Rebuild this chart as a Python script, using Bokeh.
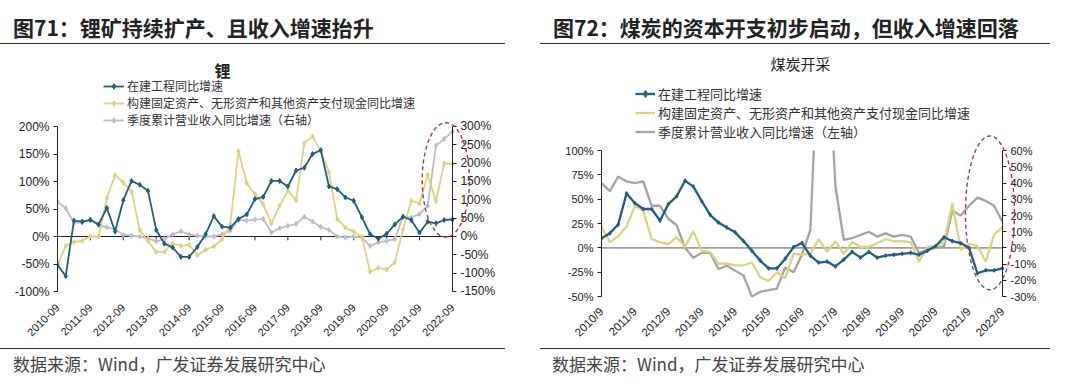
import numpy as np
from bokeh.plotting import figure
from bokeh.models import (Range1d, LinearAxis, FixedTicker, PrintfTickFormatter,
                          Legend, LegendItem, Label, PolyAnnotation, BoxAnnotation, Div)
from bokeh.layouts import row, column
from bokeh.embed import file_html
from bokeh.resources import INLINE

# ---------------- data ----------------
# Fig 71 : lithium (quarterly, 2010-09 .. 2022-09)
li_ticks = ["2010-09", "2011-09", "2012-09", "2013-09", "2014-09", "2015-09", "2016-09",
            "2017-09", "2018-09", "2019-09", "2020-09", "2021-09", "2022-09"]
li_cip = [-52, -72, 29, 27, 30, 22, 52, 9, 66, 101, 94, 83, 12, -13, -20, -37, -37, -19, 4, 37,
          18, 16, 32, 40, 68, 72, 101, 101, 91, 120, 125, 150, 157, 91, 86, 71, 65, 35, 4, -4,
          5, 22, 36, 30, 7, 27, 24, 30, 31]
li_capex = [-52, -17, -10, -8, 0, 0, 70, 112, 98, 82, 12, -8, -28, -28, -12, -17, -15, -34, -24, -18,
            -5, 22, 155, 97, 77, 59, 24, 56, 83, 66, 170, 182, 155, 117, 32, 16, 9, -1, -64, -57,
            -60, -47, 13, 65, 60, 112, 64, 133, 132]
li_rev = [95, 77, 37, 38, 47, 30, 25, 20, 5, 2, 0, -5, -13, -7, 6, 14, 6, 2, 0, 0,
          6, 16, 45, 43, 46, 48, 11, 23, 29, 34, 54, 41, 26, 18, 0, -3, 0, -3, -26, -16,
          -12, -7, 54, 52, 61, 84, 248, 266, 286]

# Fig 72 : coal mining (quarterly, 2010/9 .. 2022/9)
coal_ticks = ["2010/9", "2011/9", "2012/9", "2013/9", "2014/9", "2015/9", "2016/9",
              "2017/9", "2018/9", "2019/9", "2020/9", "2021/9", "2022/9"]
coal_cip = [10, 15, 24, 56, 46, 40, 40, 28, 45, 53, 69, 63, 48, 34, 26, 21, 16, 7, -3, -13,
            -21, -21, -11, 1, 5, -8, -15, -14, -19, -12, -4, -10, -4, -10, -8, -7, -6, -5, -7, -3,
            2, 11, 7, 5, 0, -26, -23, -23, -21]
coal_capex = [22, 6, 12, 22, 43, 38, 9, 6, 4, 11, 1, 17, -3, -4, -16, -16, -18, -18, -15, -30,
              -34, -25, -31, -6, -7, -6, 9, -4, 7, -6, 6, 1, 1, 5, 9, 7, 7, 6, -14, 1,
              2, 6, 46, -2, 4, 2, -14, 14, 21]
coal_rev = [40, 35, 44, 41, 40, 41, 26, 26, 18, 14, 0, -6, -3, -3, -13, -11, -14, -17, -30, -27,
            -26, -25, -12, -15, -4, 11, 130, 140, 38, 5, 6, 8, 10, 7, 9, 7, 8, 7, -3, -1,
            0, 1, 23, 20, 26, 31, 29, 26, 16]

li_names = ["在建工程同比增速", "构建固定资产、无形资产和其他资产支付现金同比增速",
            "季度累计营业收入同比增速（右轴）"]
coal_names = ["在建工程同比增速", "构建固定资产、无形资产和其他资产支付现金同比增速",
              "季度累计营业收入同比增速（左轴）"]

CJK = "Noto Sans CJK SC"
LAT = "Liberation Sans"
BLUE = "#245C86"
YELLOW = "#DDD47E"
RED = "#9E3B4E"


def build(cfg):
    n = len(cfg["cip"])
    xs = list(range(n))
    last = n - 1
    p = figure(width=540, height=299, output_backend="svg", toolbar_location=None,
               x_range=Range1d(0, cfg["xmax"]), y_range=Range1d(*cfg["ylview"]),
               min_border_left=cfg["mb"][0], min_border_right=cfg["mb"][1],
               min_border_top=cfg["mb"][2], min_border_bottom=cfg["mb"][3],
               background_fill_color="white", border_fill_color="white", margin=0)
    p.outline_line_color = None
    p.xgrid.visible = False
    p.ygrid.visible = False
    p.extra_y_ranges = {"r": Range1d(*cfg["yrview"])}

    # x axis (labels only)
    tpos = [4 * i for i in range(len(cfg["ticks"]))]
    ax = p.xaxis[0]
    ax.ticker = FixedTicker(ticks=tpos)
    ax.major_label_overrides = {t: lab for t, lab in zip(tpos, cfg["ticks"])}
    ax.major_label_orientation = np.pi / 4
    ax.axis_line_color = None
    ax.major_tick_line_color = None
    ax.minor_tick_line_color = None
    ax.major_label_standoff = cfg["xstand"]
    ax.major_label_text_font = LAT
    ax.major_label_text_font_size = cfg["xfs"]
    ax.major_label_text_color = "#222222"

    def style_y(a, lo, hi, step):
        a.ticker = FixedTicker(ticks=list(range(lo, hi + 1, step)))
        a.formatter = PrintfTickFormatter(format="%d%%")
        a.bounds = (lo, hi)
        a.axis_line_color = "#222222"
        a.axis_line_width = 1
        a.major_tick_line_color = "#222222"
        a.major_tick_out = 4
        a.major_tick_in = 0
        a.minor_tick_line_color = None
        a.major_label_standoff = 4
        a.major_label_text_font = LAT
        a.major_label_text_font_size = cfg["yfs"]
        a.major_label_text_color = "#222222"

    style_y(p.yaxis[0], cfg["yl"][0], cfg["yl"][1], cfg["yls"])
    ra = LinearAxis(y_range_name="r", fixed_location=last)
    style_y(ra, cfg["yr"][0], cfg["yr"][1], cfg["yrs"])
    p.add_layout(ra, "right")

    # category axis line at 0 (between first and last category)
    p.segment(x0=[0], y0=[0], x1=[last], y1=[0], line_color=cfg["zero"], line_width=1)
    if cfg["zticks"]:
        p.segment(x0=tpos, y0=[0] * len(tpos), x1=tpos, y1=[-7] * len(tpos),
                  line_color="#222222", line_width=1)

    lw = cfg["lw"]
    r_rev = p.line(xs, cfg["rev"], y_range_name="r", line_color=cfg["gray"], line_width=lw)
    rend_rev = [r_rev]
    if cfg["mk_all"]:
        rend_rev.append(p.scatter(xs, cfg["rev"], y_range_name="r", marker="diamond",
                                  size=cfg["ms"], color=cfg["gray"]))
    r_cap = p.line(xs, cfg["capex"], line_color=YELLOW, line_width=lw)
    rend_cap = [r_cap]
    if cfg["mk_all"]:
        rend_cap.append(p.scatter(xs, cfg["capex"], marker="diamond", size=cfg["ms"], color=YELLOW))
    r_cip = p.line(xs, cfg["cip"], line_color=BLUE, line_width=lw)
    s_cip = p.scatter(xs, cfg["cip"], marker="diamond", size=cfg["ms"], color=BLUE)

    # the plot area ends at the top of the value axis: mask anything drawn above it
    mask = BoxAnnotation(bottom=cfg["yl"][1], fill_color="white", fill_alpha=1,
                         line_alpha=0, level="glyph")
    p.renderers.append(mask)

    # highlight ellipse
    cx, cy, w, h = cfg["ell"]
    th = np.linspace(0, 2 * np.pi, 120)
    p.add_layout(PolyAnnotation(xs=list(cx + w / 2 * np.cos(th)), ys=list(cy + h / 2 * np.sin(th)),
                                fill_alpha=0, line_color=RED, line_alpha=1, line_width=1.4,
                                line_dash="4 3"))

    items = [LegendItem(label=cfg["names"][0], renderers=[r_cip, s_cip]),
             LegendItem(label=cfg["names"][1], renderers=rend_cap),
             LegendItem(label=cfg["names"][2], renderers=rend_rev)]
    lg = Legend(items=items, location=cfg["lgloc"], orientation="vertical", padding=0, margin=0,
                spacing=cfg["lgsp"], glyph_width=cfg["gw"], glyph_height=cfg["gh"],
                label_height=cfg["gh"], label_standoff=3, label_text_font=CJK,
                label_text_font_size=cfg["lgfs"], label_text_color="#333333",
                border_line_color=None, background_fill_alpha=0)
    p.add_layout(lg, "center")

    p.add_layout(Label(x=cfg["tpos"][0], y=cfg["tpos"][1], x_units="screen", y_units="screen",
                       text=cfg["title"], text_align="center", text_baseline="middle",
                       text_font=CJK, text_font_size=cfg["tfs"], text_font_style=cfg["tstyle"],
                       text_color="#222222"))
    return p


p1 = build(dict(cip=li_cip, capex=li_capex, rev=li_rev, ticks=li_ticks, names=li_names,
                yl=(-100, 200), ylview=(-112.7, 327.3), yls=50,
                yr=(-150, 300), yrview=(-169.1, 490.9), yrs=50,
                xmax=53.6, mb=(57, 42, 10, 47),
                xstand=1, xfs="11px", yfs="12px", zero="#222222", zticks=True,
                lw=1.8, ms=5, mk_all=True, gray="#BEBEC7",
                ell=(47.2, 103, 5.75, 208), lgloc=(46, 169.7), lgsp=0, gw=21, gh=14, lgfs="12px",
                tpos=(165, 229), title="锂", tfs="16px", tstyle="bold"))

p2 = build(dict(cip=coal_cip, capex=coal_capex, rev=coal_rev, ticks=coal_ticks, names=coal_names,
                yl=(-50, 100), ylview=(-56.04, 196.6), yls=25,
                yr=(-30, 60), yrview=(-33.62, 118), yrs=10,
                xmax=52.55, mb=(61, 40, 10, 38),
                xstand=1, xfs="11.5px", yfs="11px", zero="#555555", zticks=False,
                lw=2.3, ms=4, mk_all=False, gray="#A4A4A8",
                ell=(46.5, 36, 5.87, 158), lgloc=(34, 161.5), lgsp=0, gw=20, gh=17, lgfs="13px",
                tpos=(199, 239.5), title="煤炭开采", tfs="15px", tstyle="normal"))


def head(text, pad, line_w):
    html = ('<div style="position:relative;width:540px;height:46px;">'
            f'<div style="position:absolute;left:{pad}px;top:15px;font-family:\'{CJK}\';font-weight:bold;'
            f'font-size:21px;line-height:24px;color:#222;white-space:nowrap;">{text}</div>'
            f'<div style="position:absolute;left:0;top:43px;width:{line_w}px;height:0;'
            'border-top:1.5px solid #333;"></div></div>')
    return Div(text=html, width=540, height=46, margin=0)


def foot(text, pad, line_w):
    html = ('<div style="position:relative;width:540px;height:38px;">'
            f'<div style="position:absolute;left:0;top:3px;width:{line_w}px;height:0;'
            'border-top:1.5px solid #333;"></div>'
            f'<div style="position:absolute;left:{pad}px;top:9px;font-family:\'{CJK}\';'
            f'font-size:17px;line-height:20px;color:#444;white-space:nowrap;">{text}</div></div>')
    return Div(text=html, width=540, height=38, margin=0)


src = "数据来源：Wind，广发证券发展研究中心"
left = column(head("图71：锂矿持续扩产、且收入增速抬升", 13, 505), p1, foot(src, 13, 505),
              spacing=0, margin=0)
right = column(head("图72：煤炭的资本开支初步启动，但收入增速回落", 13, 510), p2, foot(src, 12, 510),
               spacing=0, margin=0)
layout = row(left, right, spacing=0, margin=0)

open("out.html", "w").write(file_html(layout, INLINE))
